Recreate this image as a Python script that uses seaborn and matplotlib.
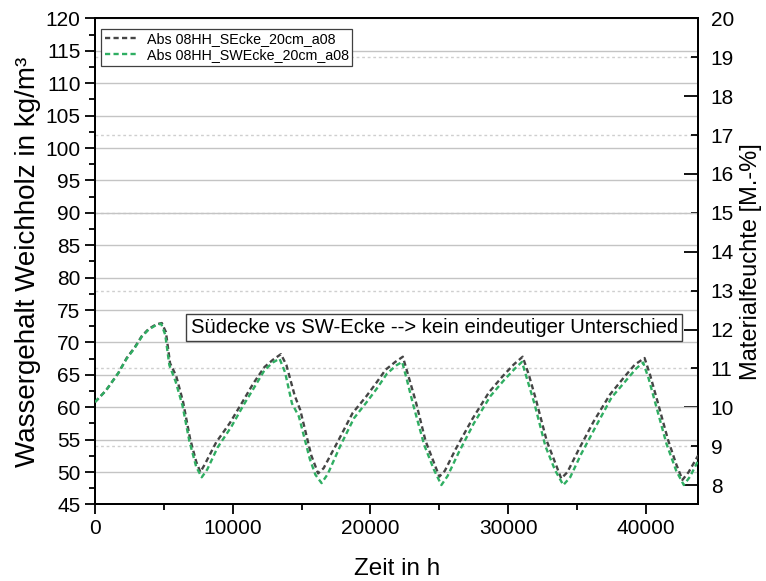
import numpy as np
import pandas as pd
import matplotlib
matplotlib.use("Agg")
import matplotlib.pyplot as plt
from matplotlib.ticker import MultipleLocator, FormatStrFormatter
import seaborn as sns

# Wassergehalt (kg/m³) über die Zeit (h) für zwei Sensorpositionen
zeit_secke = [0, 800, 1700, 2300, 2900, 3400, 3900, 4450, 4850, 5150, 5450, 5900,
              6400, 6900, 7350, 7650, 8000, 8800, 9800, 10700, 11500, 12300, 12900,
              13500, 13900, 14500, 14900, 15700, 16200, 16600, 17700, 18700, 19700,
              20400, 21100, 21800, 22350, 22800, 23300, 24000, 24600, 25000, 25400,
              26200, 27400, 28600, 29600, 30400, 31050, 31500, 32000, 32800, 33400,
              33850, 34300, 35100, 36200, 37400, 38400, 39200, 39900, 40300, 40800,
              41600, 42200, 42650, 43100, 43800]
wert_secke = [60.8, 62.6, 65.3, 67.6, 69.3, 71.0, 72.1, 72.8, 73.0, 71.6, 66.8, 64.8,
              60.8, 55.2, 51.6, 50.0, 51.3, 54.6, 57.6, 60.8, 63.7, 66.2, 67.3,
              68.2, 66.5, 61.8, 59.6, 52.6, 49.8, 50.6, 55.0, 59.1, 61.7,
              63.7, 65.8, 67.0, 67.8, 64.5, 60.8, 54.8, 51.5, 49.3, 50.2,
              53.6, 58.2, 62.3, 64.8, 66.6, 67.8, 65.0, 61.3, 54.8, 51.5,
              49.0, 50.0, 53.4, 57.8, 62.0, 64.6, 66.6, 67.6, 65.0, 61.2,
              55.0, 51.2, 48.8, 50.0, 52.6]

zeit_swecke = [0, 800, 1700, 2300, 2900, 3400, 3900, 4450, 4800, 5100, 5400, 5850,
               6350, 6850, 7350, 7750, 8150, 8900, 9900, 10800, 11600, 12300, 12900,
               13400, 13800, 14300, 14800, 15600, 16000, 16450, 16900, 17800, 18800,
               19800, 20500, 21200, 21900, 22300, 22650, 23100, 23900, 24600, 25150,
               25600, 26400, 27500, 28700, 29700, 30500, 31000, 31350, 31900, 32700,
               33400, 34000, 34500, 35300, 36400, 37500, 38500, 39300, 39800, 40200,
               40700, 41500, 42200, 42750, 43200, 43800]
wert_swecke = [60.8, 62.6, 65.3, 67.5, 69.2, 70.9, 72.0, 72.7, 72.9, 71.2, 66.5, 64.0,
               60.3, 54.8, 50.8, 49.2, 50.4, 53.8, 57.0, 60.4, 63.2, 65.7, 66.9,
               67.5, 65.4, 60.6, 58.6, 52.0, 49.6, 48.3, 49.7, 54.0, 58.3,
               61.0, 63.0, 65.2, 66.5, 67.0, 64.2, 60.4, 54.2, 50.4, 48.0,
               49.4, 53.0, 57.5, 61.7, 64.2, 66.0, 67.0, 64.5, 60.6, 54.0,
               50.3, 48.0, 49.2, 52.8, 57.2, 61.5, 64.0, 66.0, 66.9, 64.4,
               60.5, 54.3, 50.2, 48.0, 49.3, 51.8]

label_secke = "Abs 08HH_SEcke_20cm_a08"
label_swecke = "Abs 08HH_SWEcke_20cm_a08"
hinweis = "Südecke vs SW-Ecke --> kein eindeutiger Unterschied"

df = pd.concat([
    pd.DataFrame({"Zeit": zeit_secke, "Wert": wert_secke, "Reihe": label_secke}),
    pd.DataFrame({"Zeit": zeit_swecke, "Wert": wert_swecke, "Reihe": label_swecke}),
], ignore_index=True)

sns.set_style("ticks")
plt.rcParams["font.family"] = ["Liberation Sans", "DejaVu Sans"]
plt.rcParams["text.color"] = "black"
plt.rcParams["axes.labelcolor"] = "black"
plt.rcParams["xtick.color"] = "black"
plt.rcParams["ytick.color"] = "black"

fig = plt.figure(figsize=(7.66, 5.81), dpi=100)
ax = fig.add_axes([0.1240, 0.1317, 0.9116 - 0.1240, 0.9682 - 0.1317])

farben = {label_secke: "#454545", label_swecke: "#2fae62"}
striche = {label_secke: (2.2, 1.4), label_swecke: (2.2, 1.4)}

sns.lineplot(data=df, x="Zeit", y="Wert", hue="Reihe", style="Reihe",
             palette=farben, dashes=striche, linewidth=1.7, sort=False,
             estimator=None, ax=ax, zorder=3)

ax.set_xlim(0, 43800)
ax.set_ylim(45, 120)
ax.xaxis.set_major_locator(MultipleLocator(10000))
ax.xaxis.set_minor_locator(MultipleLocator(5000))
ax.yaxis.set_major_locator(MultipleLocator(5))
ax.yaxis.set_minor_locator(MultipleLocator(2.5))
ax.tick_params(axis="both", which="major", direction="out", length=7, width=1.3,
               labelsize=15, color="black", labelcolor="black")
ax.tick_params(axis="both", which="minor", direction="out", length=4, width=1.3,
               color="black")
ax.tick_params(axis="y", which="both", right=False)
ax.tick_params(axis="x", which="both", top=False)
ax.grid(True, axis="y", which="major", color="#c4c4c4", linewidth=1.0, zorder=0)
ax.set_xlabel("Zeit in h", fontsize=17.5, labelpad=14)
ax.set_ylabel("Wassergehalt Weichholz in kg/m³", fontsize=20, labelpad=3)
for s in ax.spines.values():
    s.set_visible(True)
    s.set_linewidth(1.4)
    s.set_color("black")

# Rechte Achse: Materialfeuchte in M.-% (Rohdichte 600 kg/m³)
ax2 = ax.twinx()
ax2.set_ylim(45 / 6, 120 / 6)
ax2.yaxis.set_major_locator(MultipleLocator(2))
ax2.yaxis.set_minor_locator(MultipleLocator(1))
ax2.yaxis.set_major_formatter(FormatStrFormatter("%d"))
ax2.yaxis.set_minor_formatter(FormatStrFormatter("%d"))
ax2.tick_params(axis="y", which="major", direction="in", length=10, width=1.3,
                labelsize=15, pad=9, labelcolor="black")
ax2.tick_params(axis="y", which="minor", direction="in", length=5, width=1.3,
                labelsize=15, pad=9, labelcolor="black")
ax2.grid(True, axis="y", which="minor", color="#cfcfcf", linewidth=1.0,
         linestyle=(0, (2, 2)))
ax2.set_ylabel("Materialfeuchte [M.-%]", fontsize=17, labelpad=4)
ax2.set_zorder(ax.get_zorder() - 1)
ax.patch.set_visible(False)
for s in ax2.spines.values():
    s.set_linewidth(1.4)
    s.set_color("black")

handles, labels = ax.get_legend_handles_labels()
leg = ax.legend(handles, labels, loc="upper left", bbox_to_anchor=(0.006, 0.985),
                fontsize=10.3, frameon=True, fancybox=False, framealpha=1,
                edgecolor="#404040", handlelength=2.4, handletextpad=0.5,
                borderpad=0.25, labelspacing=0.15, borderaxespad=0.2)
leg.get_frame().set_linewidth(0.9)

ax.text(24620, 72.3, hinweis, fontsize=14.6, ha="center", va="center", zorder=5,
        bbox=dict(boxstyle="square,pad=0.2", facecolor="white",
                  edgecolor="#404040", linewidth=1.0))

fig.savefig("out.png", dpi=100)
